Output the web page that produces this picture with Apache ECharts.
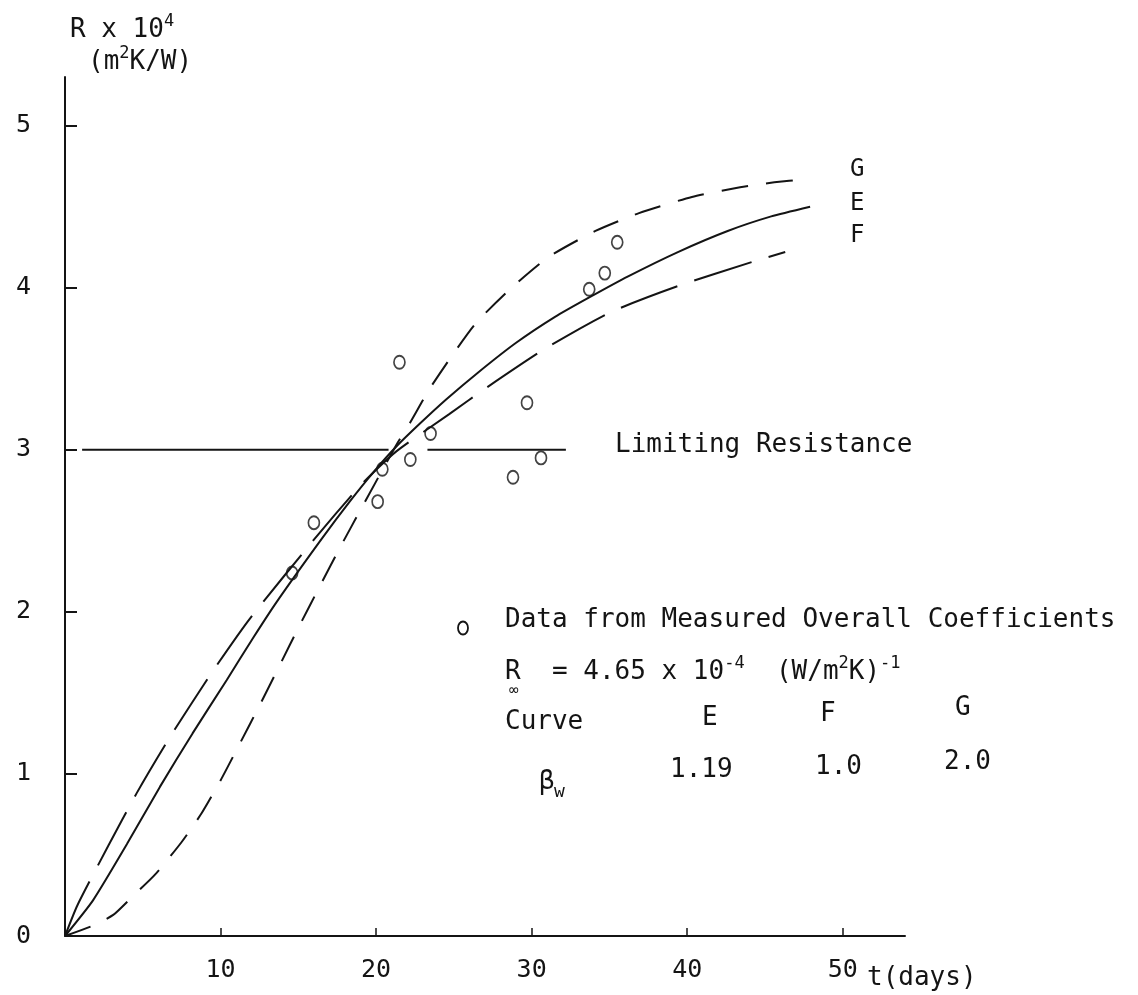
<!DOCTYPE html>
<html>
<head>
<meta charset="utf-8">
<script src="https://cdn.jsdelivr.net/npm/echarts@6/dist/echarts.min.js"></script>
<style>
  html, body { margin: 0; padding: 0; background: #fff; }
  #chart { width: 1138px; height: 995px; }
</style>
</head>
<body>
<div id="chart"></div>
<script>
// Fouling resistance R (x 10^4 m2K/W) against time t (days)

const xTicks = [10, 20, 30, 40, 50];
const yTicks = [0, 1, 2, 3, 4, 5];

// Curve E (beta_w = 1.19), solid
const curveE_t = [0, 1.8, 4.0, 6.1, 8.2, 10.4, 12.1, 13.6, 16.5, 18.3, 19.9, 21.3, 22.8, 24.5, 26.6, 29.0, 31.5, 33.7, 36.2, 39.4, 42.6, 45.4, 47.9];
const curveE_R = [0, 0.22, 0.57, 0.92, 1.25, 1.58, 1.84, 2.06, 2.45, 2.68, 2.87, 3.02, 3.16, 3.31, 3.48, 3.66, 3.82, 3.94, 4.07, 4.22, 4.35, 4.44, 4.50];

// Curve F (beta_w = 1.0), long dashes
const curveF_t = [0, 0.8, 2.8, 4.6, 6.7, 9.4, 11.9, 16.3, 19.0, 21.3, 24.7, 27.2, 30.8, 35.1, 39.4, 44.2, 46.3];
const curveF_R = [0, 0.19, 0.56, 0.88, 1.22, 1.62, 1.96, 2.48, 2.78, 2.99, 3.22, 3.39, 3.62, 3.85, 4.01, 4.16, 4.22];

// Curve G (beta_w = 2.0), short dashes
const curveG_t = [0, 1.7, 3.1, 4.3, 5.8, 7.5, 8.8, 10.0, 11.2, 12.6, 13.8, 15.1, 16.5, 17.7, 19.0, 21.3, 22.2, 23.4, 24.8, 26.4, 28.6, 31.1, 34.1, 36.9, 40.3, 43.4, 45.6, 47.6];
const curveG_R = [0, 0.06, 0.13, 0.24, 0.38, 0.58, 0.76, 0.96, 1.18, 1.44, 1.67, 1.92, 2.18, 2.40, 2.63, 3.03, 3.17, 3.37, 3.57, 3.78, 3.99, 4.19, 4.35, 4.46, 4.56, 4.62, 4.65, 4.67];

// Data from measured overall coefficients
const measured_t = [14.6, 16.0, 20.1, 20.4, 21.5, 22.2, 23.5, 28.8, 29.7, 30.6, 33.7, 34.7, 35.5];
const measured_R = [2.24, 2.55, 2.68, 2.88, 3.54, 2.94, 3.10, 2.83, 3.29, 2.95, 3.99, 4.09, 4.28];

// Limiting resistance, drawn in two pieces around the crossing of the curves
const limitingR = 3.0;
const limiting_t = [1.1, 20.8, 23.3, 32.2];

// Parameter table
const curveNames = ['E', 'F', 'G'];
const betaW = ['1.19', '1.0', '2.0'];
const rInfinity = '4.65';

const INK = '#141414';
const FONT = '"DejaVu Sans Mono", monospace';
const zip = (a, b) => a.map((v, i) => [v, b[i]]);

const chart = echarts.init(document.getElementById('chart'), null, { renderer: 'canvas' });

function txt(text, x, y, size, extra) {
  return Object.assign({
    type: 'text', x: x, y: y, silent: true,
    style: { text: text, font: size + 'px ' + FONT, fill: INK, align: 'left', verticalAlign: 'middle' }
  }, extra || {});
}
function rich(text, x, y) {
  return {
    type: 'text', x: x, y: y, silent: true,
    style: {
      text: text, fill: INK, align: 'left', verticalAlign: 'middle',
      font: '26px ' + FONT,
      rich: {
        b: { fontFamily: FONT, fontSize: 26, lineHeight: 34, fill: INK, verticalAlign: 'middle' },
        s: { fontFamily: FONT, fontSize: 17, lineHeight: 17, fill: INK, verticalAlign: 'top' }
      }
    }
  };
}

const limitingData = [[limiting_t[0], limitingR], [limiting_t[1], limitingR], [(limiting_t[1] + limiting_t[2]) / 2, '-'], [limiting_t[2], limitingR], [limiting_t[3], limitingR]];

const curveLine = (name, t, r, dash) => ({
  name: name, type: 'line', data: zip(t, r), showSymbol: false, symbol: 'none',
  smooth: 0.2,
  lineStyle: { color: INK, width: 2, type: dash }
});

const option = {
  animation: false,
  backgroundColor: '#fff',
  grid: { left: 65, right: 233, top: 77, bottom: 59 },
  xAxis: {
    type: 'value', min: 0, max: 54,
    axisLine: { show: true, lineStyle: { color: INK, width: 2 } },
    axisTick: { show: true, inside: true, length: 8, lineStyle: { color: INK, width: 1.5 }, customValues: xTicks },
    axisLabel: { customValues: xTicks, color: INK, fontFamily: FONT, fontSize: 25, margin: 22 },
    splitLine: { show: false }
  },
  yAxis: {
    type: 'value', min: 0, max: 5.3,
    axisLine: { show: true, lineStyle: { color: INK, width: 2 } },
    axisTick: { show: true, inside: true, length: 12, lineStyle: { color: INK, width: 2 }, customValues: yTicks },
    axisLabel: { customValues: yTicks, color: INK, fontFamily: FONT, fontSize: 25, margin: 34 },
    splitLine: { show: false }
  },
  series: [
    curveLine('E', curveE_t, curveE_R, 'solid'),
    curveLine('F', curveF_t, curveF_R, [60, 18]),
    curveLine('G', curveG_t, curveG_R, [27, 18]),
    {
      name: 'Limiting Resistance', type: 'line', data: limitingData, showSymbol: false, symbol: 'none',
      connectNulls: false,
      lineStyle: { color: INK, width: 2.2 }
    },
    {
      name: 'Measured', type: 'scatter', data: zip(measured_t, measured_R),
      symbol: 'circle', symbolSize: [11, 13],
      itemStyle: { color: 'rgba(0,0,0,0)', borderColor: INK, borderWidth: 1.8 }
    }
  ],
  graphic: [
    // axis titles
    rich('{b|R x 10}{s|4}', 70, 30),
    rich('{b|(m}{s|2}{b|K/W)}', 88, 62),
    txt('t(days)', 867, 978, 26),
    // curve names at the right-hand ends
    txt(curveNames[2], 850, 170, 24),
    txt(curveNames[0], 850, 204, 24),
    txt(curveNames[1], 850, 236, 24),
    txt('Limiting Resistance', 615, 445, 26),
    // key and parameter table
    { type: 'ellipse', silent: true, shape: { cx: 463, cy: 628, rx: 5, ry: 6.5 },
      style: { fill: 'none', stroke: INK, lineWidth: 1.8 } },
    txt('Data from Measured Overall Coefficients', 505, 620, 26),
    rich('{b|R  = ' + rInfinity + ' x 10}{s|-4}{b|  (W/m}{s|2}{b|K)}{s|-1}', 505, 672),
    txt('\u221e', 509, 691, 16),
    txt('Curve', 505, 722, 26),
    txt(curveNames[0], 702, 718, 26),
    txt(curveNames[1], 820, 714, 26),
    txt(curveNames[2], 955, 708, 26),
    txt('\u03b2', 539, 782, 26),
    txt('w', 554, 792, 18),
    txt(betaW[0], 670, 770, 26),
    txt(betaW[1], 815, 767, 26),
    txt(betaW[2], 944, 762, 26)
  ]
};

chart.setOption(option);
</script>
</body>
</html>
